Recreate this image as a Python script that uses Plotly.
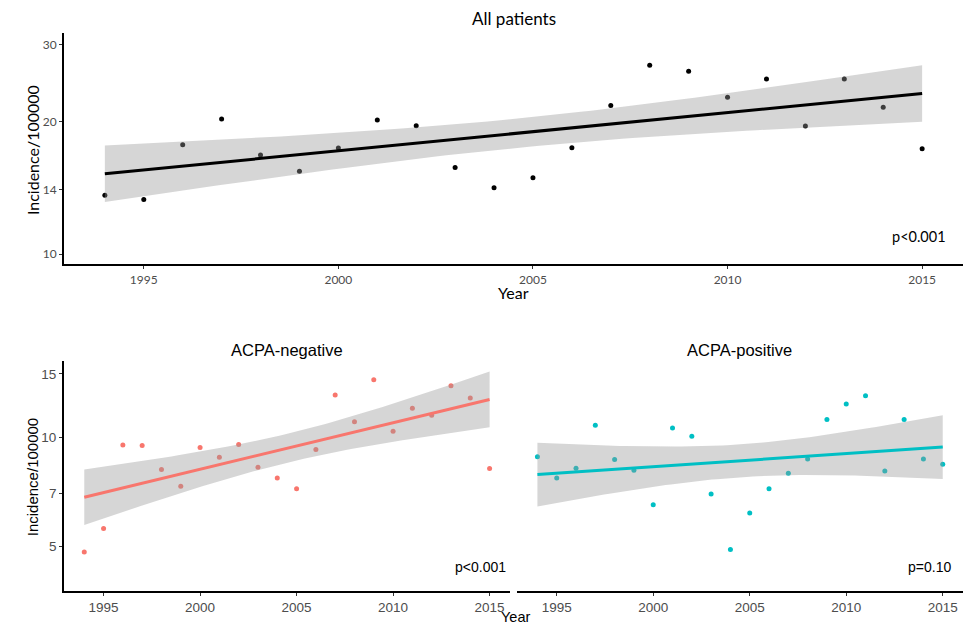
import numpy as np
import plotly.graph_objects as go

# ---------------- data ----------------
years = list(range(1994, 2016))
all_patients = [13.62, 13.32, 17.74, 20.29, 16.80, 15.43, 17.43, 20.18, 19.58, 15.75, 14.16,
                14.92, 17.46, 21.79, 26.88, 26.04, 22.73, 25.01, 19.55, 25.01, 21.57, 17.36]
acpa_negative = [4.82, 5.60, 9.54, 9.50, 8.15, 7.33, 9.38, 8.82, 9.56, 8.27, 7.73,
                 7.21, 9.26, 13.12, 11.05, 14.44, 10.41, 12.05, 11.53, 13.90, 12.87, 8.21]
acpa_positive = [8.84, 7.73, 8.22, 10.81, 8.69, 8.12, 6.52, 10.63, 10.08, 6.98, 4.90,
                 6.18, 7.21, 7.96, 8.72, 11.21, 12.39, 13.04, 8.08, 11.21, 8.72, 8.43]
x_ticks = [1995, 2000, 2005, 2010, 2015]
top_y_ticks = [10, 14, 20, 30]
bottom_y_ticks = [5, 7, 10, 15]
panel_titles = ["All patients", "ACPA-negative", "ACPA-positive"]
p_values = ["p<0.001", "p<0.001", "p=0.10"]

# page body adds an 8px offset; compensate so that positions match the window
OFF = 8
W, H = 976 - OFF, 625 - OFF
L, T = 64 - OFF, 33 - OFF
R = W - (963.3 - OFF)
B = H - (590.7 - OFF)
PW, PH = W - L - R, H - T - B


def fx(px):
    return (px - OFF - L) / PW


def fy(py):
    return 1 - (py - OFF - T) / PH


def lm_band(x, y, n=80):
    x = np.asarray(x, float)
    ly = np.log10(np.asarray(y, float))
    b, a = np.polyfit(x, ly, 1)
    res = ly - (a + b * x)
    dof = len(x) - 2
    s = np.sqrt(np.sum(res ** 2) / dof)
    xm = x.mean()
    sxx = np.sum((x - xm) ** 2)
    g = np.linspace(x.min(), x.max(), n)
    fit = a + b * g
    se = s * np.sqrt(1 / len(x) + (g - xm) ** 2 / sxx)
    t = 2.085963
    return g, 10 ** fit, 10 ** (fit - t * se), 10 ** (fit + t * se)


fig = go.Figure()

panels = [
    (all_patients, "black", "x", "y", "rgb(0,0,0)"),
    (acpa_negative, "#F8766D", "x2", "y2", "#F8766D"),
    (acpa_positive, "#00BFC4", "x3", "y3", "#00BFC4"),
]

for vals, col, xa, ya, lc in panels:
    fig.add_trace(go.Scatter(x=years, y=vals, mode="markers", xaxis=xa, yaxis=ya,
                             marker=dict(color=col, size=5), showlegend=False))
    g, fit, lo, hi = lm_band(years, vals)
    fig.add_trace(go.Scatter(x=list(g) + list(g[::-1]), y=list(hi) + list(lo[::-1]),
                             mode="lines", fill="toself", fillcolor="rgba(153,153,153,0.4)",
                             line=dict(width=0), xaxis=xa, yaxis=ya, showlegend=False,
                             hoverinfo="skip"))
    fig.add_trace(go.Scatter(x=g, y=fit, mode="lines", line=dict(color=lc, width=3),
                             xaxis=xa, yaxis=ya, showlegend=False))

xr = [1992.95, 2016.05]
TOPF = "Lato, Open Sans, sans-serif"
BOTF = "Liberation Sans, Arial, sans-serif"
top_font = dict(family=TOPF, size=12, color="#4D4D4D")
bot_font = dict(family=BOTF, size=13.5, color="#4D4D4D")

common_x = dict(range=xr, tickvals=x_ticks, showline=True, linecolor="black", linewidth=1.8,
                ticks="outside", ticklen=3, tickwidth=1.2, tickcolor="#333333", showgrid=False,
                zeroline=False, automargin=False)
common_y = dict(type="log", showline=True, linecolor="black", linewidth=1.8,
                ticks="outside", ticklen=3, tickwidth=1.2, tickcolor="#333333", showgrid=False,
                zeroline=False, automargin=False)

fig.update_layout(
    width=W, height=H, margin=dict(l=L, r=R, t=T, b=B, autoexpand=False),
    plot_bgcolor="white", paper_bgcolor="white",
    xaxis=dict(domain=[fx(64), fx(963.3)], anchor="y", tickfont=top_font, **common_x),
    yaxis=dict(domain=[fy(264.3), fy(33)], anchor="x", range=[0.9766, 1.5029],
               tickvals=top_y_ticks, tickfont=top_font, **common_y),
    xaxis2=dict(domain=[fx(64), fx(510)], anchor="y2", tickfont=bot_font, **common_x),
    yaxis2=dict(domain=[fy(590.7), fy(361)], anchor="x2", range=[0.57518, 1.2113],
                tickvals=bottom_y_ticks, tickfont=bot_font, **common_y),
    xaxis3=dict(domain=[fx(517.3), fx(963.3)], anchor="y3", tickfont=bot_font, **common_x),
    yaxis3=dict(domain=[fy(590.7), fy(361)], anchor="x3", range=[0.57518, 1.2113],
                type="log", showline=False, showticklabels=False, ticks="",
                showgrid=False, zeroline=False, automargin=False),
)

ann = []


def add(text, px, py, fam, size, xanchor="center", angle=0):
    ann.append(dict(text=text, x=fx(px), y=fy(py), xref="paper", yref="paper",
                    showarrow=False, xanchor=xanchor, yanchor="middle", textangle=angle,
                    font=dict(family=fam, size=size, color="black")))


add(panel_titles[0], 514, 19, TOPF, 17)
add(panel_titles[1], 287.5, 350, BOTF, 16.5)
add(panel_titles[2], 740, 350, BOTF, 16.5)
add("Year", 514, 292, TOPF, 16)
add("Year", 516, 617, BOTF, 14.5)
add("Incidence/100000", 32, 150, TOPF, 16, angle=-90)
add("Incidence/100000", 32, 477, BOTF, 15, angle=-90)
add(p_values[0], 948, 236, TOPF, 14.5, xanchor="right")
add(p_values[1], 508, 566.7, BOTF, 14, xanchor="right")
add(p_values[2], 953, 566.7, BOTF, 14, xanchor="right")
fig.update_layout(annotations=ann)

fig.write_html("out.html")
